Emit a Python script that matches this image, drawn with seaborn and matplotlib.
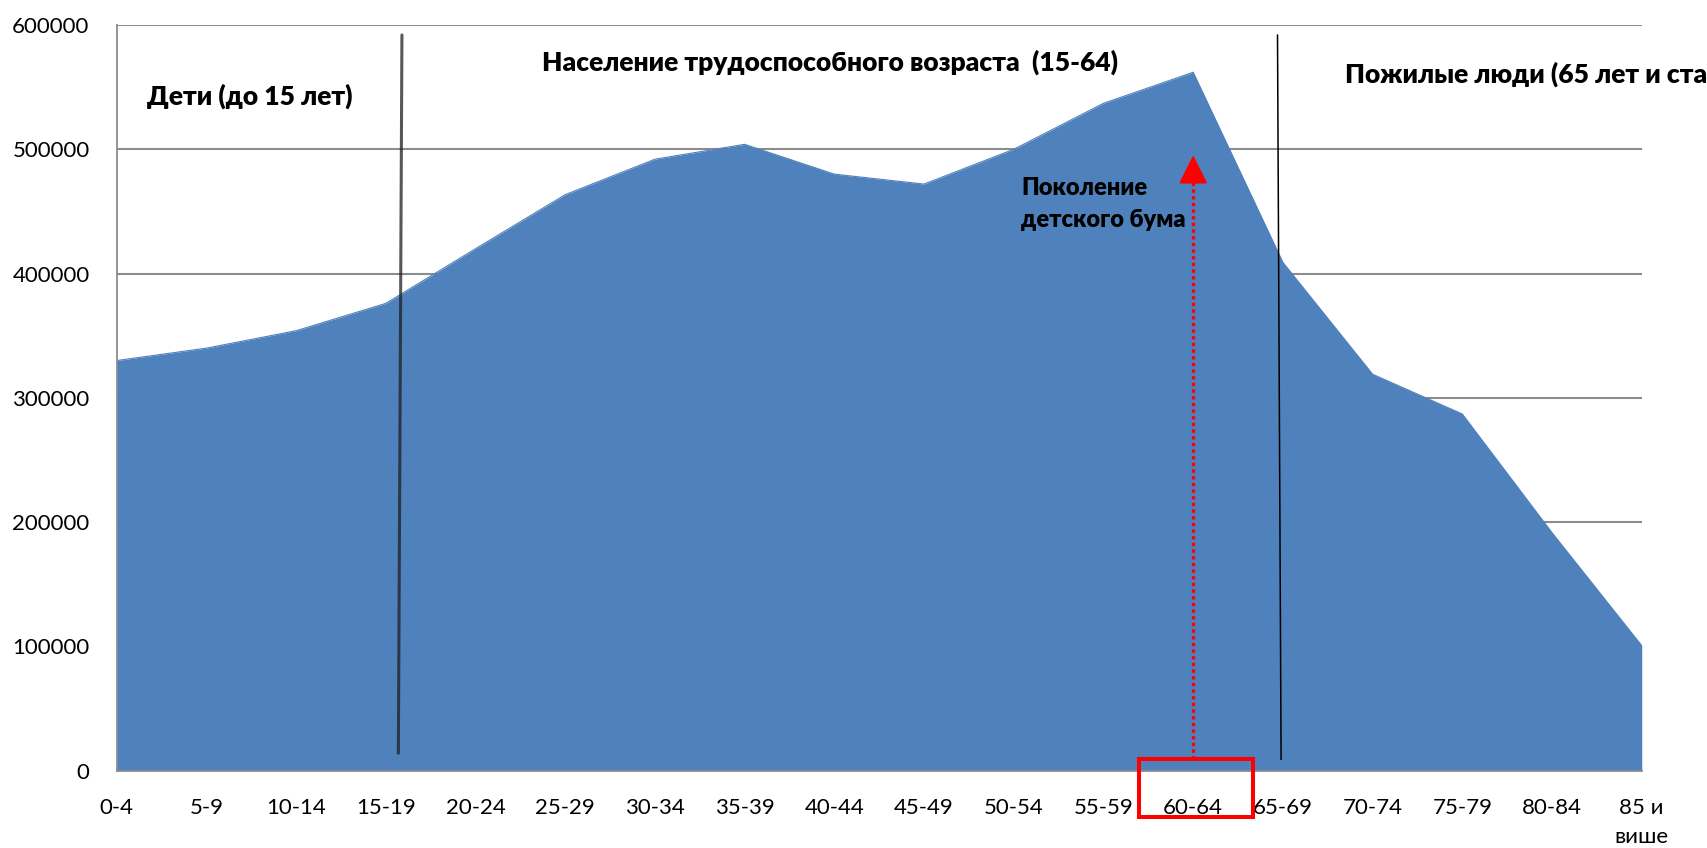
import matplotlib
matplotlib.use("Agg")
import matplotlib.pyplot as plt
import seaborn as sns
import pandas as pd
from matplotlib.patches import Rectangle, Polygon

# Age groups and population counts
age_groups = ["0-4", "5-9", "10-14", "15-19", "20-24", "25-29", "30-34", "35-39",
              "40-44", "45-49", "50-54", "55-59", "60-64", "65-69", "70-74",
              "75-79", "80-84", "85 и\nвише"]
population = [330000, 340000, 354000, 376000, 420000, 463500, 492000, 504000,
              480000, 472000, 500000, 537000, 562000, 409000, 319000, 287000,
              191500, 100600]
y_ticks = [0, 100000, 200000, 300000, 400000, 500000, 600000]

children_label = "Дети (до 15 лет)"
working_label = "Население трудоспособного возраста  (15-64)"
# the reference cuts this label at the right edge of the picture
elderly_label = "Пожилые люди (65 лет и ста"
boom_label = "Поколение\nдетского бума"
boom_group = "60-64"

sns.set_theme(style="white")
plt.rcParams['font.family'] = ['Lato', 'DejaVu Sans']

df = pd.DataFrame({"pos": range(len(age_groups)), "pop": population})

fig = plt.figure(figsize=(17.08, 8.48), dpi=100)
ax = fig.add_axes([0.0683, 0.0912, 0.8929, 0.8793])

blue = "#4F81BD"
ax.fill_between(df["pos"], df["pop"], 0, color=blue, lw=0, zorder=2)
sns.lineplot(data=df, x="pos", y="pop", color=blue, lw=0.8, ax=ax, zorder=2)

ax.set_xlim(0, len(age_groups) - 1)
ax.set_ylim(0, 600000)
ax.set_yticks(y_ticks)
ax.set_yticklabels([str(v) for v in y_ticks])
ax.set_xticks(range(len(age_groups)))
ax.set_xticklabels(age_groups, multialignment="center", linespacing=1.6)
ax.set_xlabel("")
ax.set_ylabel("")

ax.grid(axis="y", color="#8c8c8c", lw=1.5, zorder=1)
ax.grid(axis="x", visible=False)
for s in ["top", "right"]:
    ax.spines[s].set_visible(False)
for s in ["left", "bottom"]:
    ax.spines[s].set_color("#8c8c8c")
    ax.spines[s].set_linewidth(1.3)
    ax.spines[s].set_zorder(3)
ax.tick_params(axis="both", which="major", direction="out", length=5.5,
               width=1.3, color="#8c8c8c", labelsize=16, labelcolor="black")
ax.tick_params(axis="y", pad=14)
ax.tick_params(axis="x", pad=14)

# Group separators
ax.plot([3.18, 3.14], [592000, 14000], color="#1f1f1f", alpha=0.75, lw=2.2, zorder=4)
ax.plot([12.94, 12.98], [592000, 9000], color="black", lw=1.1, zorder=4)

# Baby boom arrow
bx = age_groups.index(boom_group)
ax.plot([bx, bx], [9000, 474000], color="red", lw=2.4, ls=(0, (1, 1)), zorder=5)
ax.add_patch(Polygon([[bx - 0.145, 473000], [bx + 0.145, 473000], [bx, 494000]],
                     closed=True, color="red", zorder=5))
ax.add_patch(Rectangle((bx - 0.6, -37000), 1.27, 46000, fill=False,
                       edgecolor="red", lw=2.9, clip_on=False, zorder=6))

title_kw = dict(fontsize=19, fontweight="heavy", va="center", color="black")
fig.text(0.086, 0.887, children_label, **title_kw)
fig.text(0.3173, 0.927, working_label, **title_kw)
fig.text(0.7875, 0.9127, elderly_label, **title_kw)
fig.text(0.598, 0.7594, boom_label, fontsize=17, fontweight="heavy",
         va="center", color="black", linespacing=1.6)

fig.savefig("out.png", dpi=100)
